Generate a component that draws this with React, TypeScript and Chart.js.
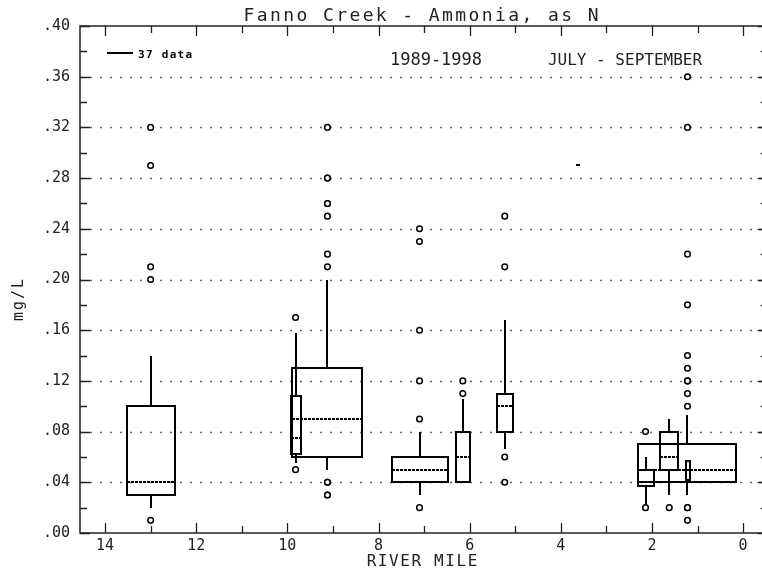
import React, { useEffect, useRef } from "react";
import { Chart, registerables } from "chart.js";

Chart.register(...registerables);

// ---- data ----
const stationMiles = [13.0, 9.82, 9.12, 7.1, 6.15, 5.23, 3.63, 2.14, 1.62, 1.22, 1.2];
const boxWidths = [1.06, 0.2, 1.53, 1.22, 0.31, 0.36, 0.09, 0.33, 0.4, 2.13, 0.07];
const q1Values = [0.03, 0.062, 0.06, 0.04, 0.04, 0.08, 0.29, 0.037, 0.05, 0.04, 0.042];
const medianValues = [0.04, 0.075, 0.09, 0.05, 0.06, 0.1, 0.29, 0.04, 0.06, 0.05, 0.05];
const q3Values = [0.1, 0.108, 0.13, 0.06, 0.08, 0.11, 0.29, 0.05, 0.08, 0.07, 0.057];
const whiskerLow = [0.02, 0.055, 0.05, 0.03, 0.04, 0.066, 0.29, 0.023, 0.03, 0.03, 0.042];
const whiskerHigh = [0.14, 0.158, 0.2, 0.08, 0.106, 0.168, 0.29, 0.06, 0.09, 0.093, 0.057];
const outlierValues: number[][] = [
  [0.01, 0.2, 0.21, 0.29, 0.32],
  [0.05, 0.17],
  [0.03, 0.03, 0.04, 0.04, 0.21, 0.22, 0.25, 0.26, 0.26, 0.28, 0.28, 0.32],
  [0.02, 0.09, 0.12, 0.16, 0.23, 0.24],
  [0.11, 0.12],
  [0.04, 0.06, 0.21, 0.25],
  [],
  [0.02, 0.08],
  [0.02],
  [0.01, 0.02, 0.02, 0.1, 0.11, 0.12, 0.12, 0.13, 0.14, 0.18, 0.22, 0.32, 0.36],
  [],
];

const xTickValues = [14, 12, 10, 8, 6, 4, 2, 0];
const xTickLabels = ["14", "12", "10", "8", "6", "4", "2", "0"];
const xMinorTicks = [13, 11, 9, 7, 5, 3, 1];
const yTickValues = [0, 0.04, 0.08, 0.12, 0.16, 0.2, 0.24, 0.28, 0.32, 0.36, 0.4];
const yTickLabels = [".00", ".04", ".08", ".12", ".16", ".20", ".24", ".28", ".32", ".36", ".40"];
const yMinorTicks = [0.02, 0.06, 0.1, 0.14, 0.18, 0.22, 0.26, 0.3, 0.34, 0.38];
const xMin = -0.54;
const xMax = 14.55;

const titleText = "Fanno Creek - Ammonia, as N";
const periodText = "1989-1998";
const seasonText = "JULY - SEPTEMBER";
const legendText = "37 data";
const yTitle = "mg/L";
const xTitle = "RIVER MILE";

const MONO = "'DejaVu Sans Mono', 'Liberation Mono', monospace";

const outlierPoints = stationMiles.flatMap((m, i) =>
  outlierValues[i].map((v) => ({ x: m, y: v }))
);

function drawSpaced(ctx: any, text: string, x: number, y: number, spacing: number) {
  ctx.letterSpacing = spacing + "px";
  const w = ctx.measureText(text).width;
  ctx.textAlign = "left";
  ctx.fillText(text, x - (w - spacing) / 2, y);
  ctx.letterSpacing = "0px";
}

const boxPlugin = {
  id: "boxPlot",
  beforeDatasetsDraw(chart: any) {
    const { ctx, chartArea: a, scales } = chart;
    const xs = scales.x;
    const ys = scales.y;
    ctx.save();
    // dotted grid lines
    ctx.strokeStyle = "#666";
    ctx.lineWidth = 1.3;
    ctx.setLineDash([2, 8]);
    for (const v of yTickValues) {
      if (v <= 0 || v >= 0.4) continue;
      const py = Math.round(ys.getPixelForValue(v)) + 0.5;
      ctx.beginPath();
      ctx.moveTo(a.left, py);
      ctx.lineTo(a.right, py);
      ctx.stroke();
    }
    ctx.setLineDash([]);
    // frame
    ctx.strokeStyle = "#222";
    ctx.lineWidth = 1.5;
    ctx.strokeRect(a.left, a.top, a.right - a.left, a.bottom - a.top);
    // ticks
    ctx.lineWidth = 1.3;
    const yt = (v: number, len: number) => {
      const py = Math.round(ys.getPixelForValue(v)) + 0.5;
      ctx.beginPath();
      ctx.moveTo(a.left, py);
      ctx.lineTo(a.left + len, py);
      ctx.moveTo(a.right, py);
      ctx.lineTo(a.right - len, py);
      ctx.stroke();
    };
    yTickValues.forEach((v) => yt(v, 10));
    yMinorTicks.forEach((v) => yt(v, 7));
    const xt = (v: number, len: number) => {
      const px = Math.round(xs.getPixelForValue(v)) + 0.5;
      ctx.beginPath();
      ctx.moveTo(px, a.bottom);
      ctx.lineTo(px, a.bottom - len);
      ctx.moveTo(px, a.top);
      ctx.lineTo(px, a.top + len);
      ctx.stroke();
    };
    xTickValues.forEach((v) => xt(v, 10));
    xMinorTicks.forEach((v) => xt(v, 7));

    // boxes
    ctx.strokeStyle = "#000";
    ctx.lineWidth = 2;
    stationMiles.forEach((m, i) => {
      const cx = Math.round(xs.getPixelForValue(m));
      const half = Math.max(1.5, Math.round(Math.abs(xs.getPixelForValue(m + boxWidths[i] / 2) - xs.getPixelForValue(m))));
      const top = Math.round(ys.getPixelForValue(q3Values[i]));
      const bot = Math.round(ys.getPixelForValue(q1Values[i]));
      ctx.setLineDash([]);
      ctx.strokeRect(cx - half, top, half * 2, bot - top);
      ctx.beginPath();
      if (whiskerHigh[i] > q3Values[i]) {
        ctx.moveTo(cx, top);
        ctx.lineTo(cx, Math.round(ys.getPixelForValue(whiskerHigh[i])));
      }
      if (whiskerLow[i] < q1Values[i]) {
        ctx.moveTo(cx, bot);
        ctx.lineTo(cx, Math.round(ys.getPixelForValue(whiskerLow[i])));
      }
      ctx.stroke();
      if (q3Values[i] > q1Values[i]) {
        const my = Math.round(ys.getPixelForValue(medianValues[i]));
        ctx.setLineDash([3, 1]);
        ctx.beginPath();
        ctx.moveTo(cx - half, my);
        ctx.lineTo(cx + half, my);
        ctx.stroke();
      }
    });
    ctx.restore();
  },
  afterDraw(chart: any) {
    const { ctx } = chart;
    ctx.save();
    ctx.fillStyle = "#222";
    ctx.textBaseline = "alphabetic";
    // title
    ctx.font = `18px ${MONO}`;
    drawSpaced(ctx, titleText, 421, 21, 2.4);
    // annotations
    ctx.font = `17px ${MONO}`;
    drawSpaced(ctx, periodText, 436, 65, 0);
    ctx.font = `16px ${MONO}`;
    drawSpaced(ctx, seasonText, 625, 65, 0);
    // legend
    ctx.strokeStyle = "#000";
    ctx.lineWidth = 2;
    ctx.beginPath();
    ctx.moveTo(107, 53);
    ctx.lineTo(133, 53);
    ctx.stroke();
    ctx.fillStyle = "#000";
    ctx.font = `bold 11px ${MONO}`;
    ctx.letterSpacing = "1.3px";
    ctx.textAlign = "left";
    ctx.fillText(legendText, 138, 58);
    ctx.letterSpacing = "0px";
    ctx.fillStyle = "#222";
    // x title
    ctx.font = `16px ${MONO}`;
    drawSpaced(ctx, xTitle, 422, 566, 1.6);
    // y title
    ctx.save();
    ctx.translate(23, 300);
    ctx.rotate(-Math.PI / 2);
    ctx.font = `15px ${MONO}`;
    drawSpaced(ctx, yTitle, 0, 0, 2);
    ctx.restore();
    ctx.restore();
  },
};

export default function App() {
  const ref = useRef<HTMLCanvasElement | null>(null);
  useEffect(() => {
    document.body.style.margin = "0";
    const canvas = ref.current;
    if (!canvas) return;
    const chart = new Chart(canvas, {
      type: "scatter",
      data: {
        datasets: [
          {
            data: outlierPoints,
            pointRadius: 2.8,
            pointHoverRadius: 2.8,
            pointBorderWidth: 1.5,
            borderColor: "#000",
            backgroundColor: "#fff",
          },
        ],
      },
      options: {
        responsive: false,
        animation: false,
        events: [],
        layout: { padding: { top: 26, right: 4, left: 0, bottom: 0 } },
        plugins: {
          legend: { display: false },
          tooltip: { enabled: false },
          title: { display: false },
        },
        scales: {
          x: {
            type: "linear",
            reverse: true,
            min: xMin,
            max: xMax,
            grid: { display: false, drawTicks: false },
            border: { display: false },
            afterBuildTicks: (s: any) => {
              s.ticks = xTickValues.map((v) => ({ value: v }));
            },
            afterFit: (s: any) => {
              s.height = 38;
            },
            ticks: {
              autoSkip: false,
              maxRotation: 0,
              padding: 4,
              color: "#222",
              font: { family: MONO, size: 15 },
              callback: (_v: any, i: number) => xTickLabels[i],
            },
          },
          y: {
            type: "linear",
            min: 0,
            max: 0.4,
            grid: { display: false, drawTicks: false },
            border: { display: false },
            afterBuildTicks: (s: any) => {
              s.ticks = yTickValues.map((v) => ({ value: v }));
            },
            afterFit: (s: any) => {
              s.width = 80;
            },
            ticks: {
              autoSkip: false,
              padding: 10,
              color: "#222",
              font: { family: MONO, size: 15 },
              callback: (_v: any, i: number) => yTickLabels[i],
            },
          },
        },
      },
      plugins: [boxPlugin],
    } as any);
    return () => chart.destroy();
  }, []);
  return (
    <div
      style={{
        position: "fixed",
        left: 0,
        top: 0,
        width: 762,
        height: 571,
        overflow: "hidden",
        background: "#fff",
      }}
    >
      <canvas ref={ref} width={772} height={571} style={{ display: "block" }} />
    </div>
  );
}
